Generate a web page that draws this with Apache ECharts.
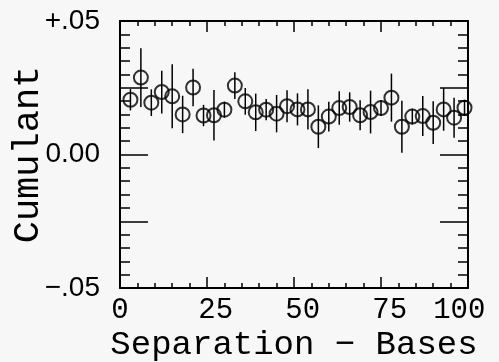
<!DOCTYPE html>
<html>
<head>
<meta charset="utf-8">
<script src="https://cdn.jsdelivr.net/npm/echarts@6/dist/echarts.min.js"></script>
<style>
html,body{margin:0;padding:0;background:#f7f7f7;}
#c{width:499px;height:362px;}
</style>
</head>
<body>
<div id="c"></div>
<script>
// Data
const separation = [3, 6, 9, 12, 15, 18, 21, 24, 27, 30, 33, 36, 39, 42, 45, 48, 51,
  54, 57, 60, 63, 66, 69, 72, 75, 78, 81, 84, 87, 90, 93, 96, 99];
const cumulant = [0.0205, 0.0288, 0.0194, 0.0234, 0.0218, 0.0150, 0.0251, 0.0146, 0.0147,
  0.0168, 0.0258, 0.0199, 0.0158, 0.0168, 0.0153, 0.0181, 0.0169, 0.0169, 0.0104, 0.0142,
  0.0174, 0.0178, 0.0147, 0.0159, 0.0174, 0.0213, 0.0104, 0.0142, 0.0144, 0.0119, 0.0169,
  0.0138, 0.0175];
const errors = [0.004, 0.011, 0.005, 0.008, 0.012, 0.007, 0.007, 0.004, 0.0095, 0.003,
  0.005, 0.005, 0.007, 0.004, 0.007, 0.006, 0.006, 0.0075, 0.008, 0.0056, 0.0063, 0.0055,
  0.0056, 0.008, 0.003, 0.009, 0.0097, 0.003, 0.0075, 0.008, 0.008, 0.0075, 0.003];
const yTickLabels = {'0.05': '+.05', '0': '0.00', '-0.05': '\u2212.05'};
const xTickLabels = ['0', '25', '50', '75', '100'];

const points = separation.map((x, i) => [x, cumulant[i]]);
const bars = separation.map((x, i) => [x, cumulant[i] - errors[i], cumulant[i] + errors[i]]);

const chart = echarts.init(document.getElementById('c'));
const axisLine = {show: true, onZero: false, lineStyle: {color: '#000', width: 2}};
const xCommon = {
  type: 'value', min: 0, max: 100, interval: 25,
  axisLine: axisLine,
  axisTick: {show: true, inside: true, length: 11, lineStyle: {color: '#000', width: 1.5}},
  minorTick: {show: true, splitNumber: 5, length: 5, lineStyle: {color: '#000', width: 1.5}},
  splitLine: {show: false}, minorSplitLine: {show: false}
};
const yCommon = {
  type: 'value', min: -0.05, max: 0.05, interval: 0.025,
  axisLine: axisLine,
  axisTick: {show: true, inside: true, length: 28, lineStyle: {color: '#000', width: 1.5}},
  minorTick: {show: true, splitNumber: 5, length: 10, lineStyle: {color: '#000', width: 1.5}},
  splitLine: {show: false}, minorSplitLine: {show: false}
};
chart.setOption({
  backgroundColor: '#f7f7f7',
  animation: false,
  grid: {left: 120, right: 31, top: 21, bottom: 74, containLabel: false, outerBoundsMode: 'none'},
  xAxis: [
    Object.assign({}, xCommon, {
      position: 'bottom',
      name: 'Separation \u2212 Bases', nameLocation: 'middle', nameGap: 40,
      nameMoveOverlap: false,
      nameTextStyle: {fontFamily: 'Liberation Mono', fontSize: 34, color: '#000'},
      axisLabel: {
        fontFamily: 'Liberation Mono', fontSize: 29, color: '#000', margin: 8,
        formatter: v => {
          const i = Math.round(v / 25);
          const t = xTickLabels[i] || '';
          if (i === 0) return t;
          if (i === 4) return t + ' ';
          return ' ' + t;
        }
      }
    }),
    Object.assign({}, xCommon, {position: 'top', axisLabel: {show: false}})
  ],
  yAxis: [
    Object.assign({}, yCommon, {
      position: 'left',
      name: 'Cumulant', nameLocation: 'middle', nameGap: 73, nameRotate: 90,
      nameMoveOverlap: false,
      nameTextStyle: {fontFamily: 'Liberation Mono', fontSize: 37, color: '#000'},
      axisLabel: {
        fontFamily: 'Liberation Sans', fontSize: 28, color: '#000', margin: 20,
        formatter: v => {
          const k = String(Math.round(v * 1000) / 1000);
          return yTickLabels[k] !== undefined ? yTickLabels[k] : '';
        }
      }
    }),
    Object.assign({}, yCommon, {position: 'right', axisLabel: {show: false}})
  ],
  series: [
    {
      type: 'custom',
      xAxisIndex: 0, yAxisIndex: 0,
      data: bars,
      renderItem: function (params, api) {
        const top = api.coord([api.value(0), api.value(2)]);
        const bot = api.coord([api.value(0), api.value(1)]);
        return {
          type: 'line',
          shape: {x1: top[0], y1: top[1], x2: bot[0], y2: bot[1]},
          style: {stroke: '#000', lineWidth: 1.5}
        };
      },
      z: 2
    },
    {
      type: 'scatter',
      xAxisIndex: 0, yAxisIndex: 0,
      data: points,
      symbol: 'circle', symbolSize: 14,
      itemStyle: {color: 'rgba(0,0,0,0)', borderColor: '#000', borderWidth: 2},
      z: 3
    }
  ]
});
</script>
</body>
</html>
